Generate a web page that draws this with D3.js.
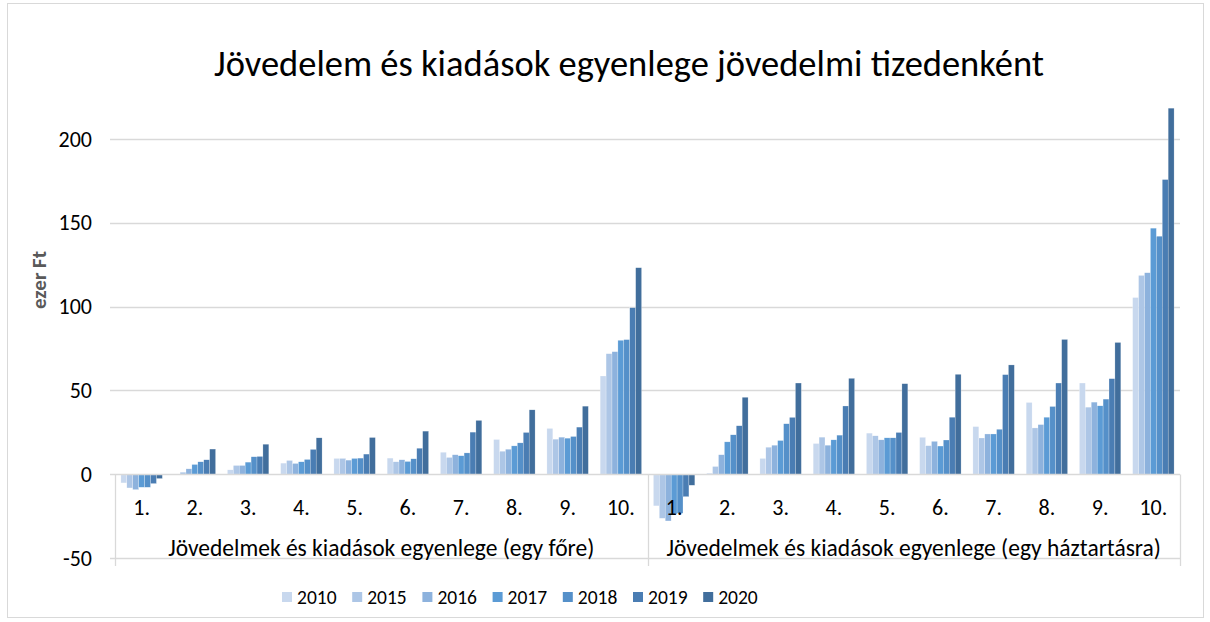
<!DOCTYPE html>
<html>
<head>
<meta charset="utf-8">
<script src="https://cdn.jsdelivr.net/npm/d3@7"></script>
<style>
  html, body { margin: 0; padding: 0; background: #fff; }
  svg { display: block; font-family: Carlito, Calibri, Lato, sans-serif; }
</style>
</head>
<body>
<svg id="chart" width="1210" height="622"></svg>
<script>
const title = "Jövedelem és kiadások egyenlege jövedelmi tizedenként";
const yTitle = "ezer Ft";
const years = ["2010", "2015", "2016", "2017", "2018", "2019", "2020"];
const deciles = ["1.", "2.", "3.", "4.", "5.", "6.", "7.", "8.", "9.", "10."];
const groups = ["Jövedelmek és kiadások egyenlege (egy főre)", "Jövedelmek és kiadások egyenlege (egy háztartásra)"];
const yTicks = [-50, 0, 50, 100, 150, 200];
const colors = ["#c8d8ee", "#adc6e6", "#8db2dd", "#5b9bd5", "#5590c9", "#4a7db3", "#416e9c"];

// values per year: first 10 = per person deciles, last 10 = per household deciles
const v2010 = [-5.2, 0, 2.6, 6.6, 9.4, 9.6, 13.1, 20.7, 27.3, 58.6, -18.9, 0.6, 9.4, 18.3, 24.5, 22, 28.4, 42.8, 54.4, 105.4];
const v2015 = [-8.2, 1.2, 5.2, 8.2, 9.4, 7.4, 10.0, 13.7, 20.9, 71.9, -26.3, 4.6, 16.1, 22.1, 22.9, 17, 21.6, 27.6, 40, 118.6];
const v2016 = [-9.2, 3.2, 5.2, 6.4, 8.4, 8.6, 11.6, 14.9, 22.1, 73.1, -27.9, 11.6, 17.3, 17.3, 20.5, 19.6, 24, 29.6, 43, 120.2];
const v2017 = [-7.8, 5.8, 7.2, 7.4, 9.4, 7.6, 11.0, 16.9, 21.5, 79.9, -23.7, 19.3, 20.1, 20.5, 21.7, 16.8, 24, 34, 40.8, 146.8];
const v2018 = [-7.8, 7.4, 10.4, 8.8, 9.6, 9.2, 12.7, 18.7, 22.5, 80.3, -23.3, 23.5, 30.1, 23.3, 21.7, 20.4, 26.8, 40.4, 44.8, 142];
const v2019 = [-5.6, 8.6, 10.6, 14.8, 12.0, 15.5, 25.1, 24.9, 28.1, 99.3, -13.4, 28.9, 33.9, 40.7, 24.9, 34, 59.4, 54.4, 57, 175.8];
const v2020 = [-2.6, 15.0, 17.9, 21.7, 21.9, 25.7, 32.1, 38.4, 40.6, 123.2, -6.6, 45.9, 54.4, 57.2, 54.0, 59.6, 65.2, 80.4, 78.6, 218.4];
const series = [v2010, v2015, v2016, v2017, v2018, v2019, v2020];

const svg = d3.select("#chart");
const plot = { left: 115, right: 1180, top: 139, bottom: 558 };

// chart border
svg.append("rect").attr("x", 7.5).attr("y", 3.5).attr("width", 1196).attr("height", 614)
  .attr("fill", "#fff").attr("stroke", "#d9d9d9").attr("stroke-width", 1);

const keys = [];
groups.forEach((g, gi) => deciles.forEach((d, di) => keys.push(gi * 10 + di)));

const x = d3.scaleBand().domain(keys).range([plot.left, plot.right]).paddingInner(0.222).paddingOuter(0.111);
const xs = d3.scaleBand().domain(years).range([0, x.bandwidth()]);
const y = d3.scaleLinear().domain([-50, 200]).range([plot.bottom, plot.top]);

// value axis labels
const gy = svg.append("g").attr("transform", `translate(${plot.left - 5},0)`);
gy.call(d3.axisLeft(y).tickValues(yTicks).tickSize(0).tickPadding(18).tickFormat(d => String(d)));
gy.select(".domain").remove();
gy.selectAll("text").attr("font-size", 22).attr("fill", "#000").attr("font-family", "Carlito, Calibri, Lato, sans-serif");

// gridlines
svg.append("g").selectAll("line").data(yTicks.filter(t => t !== 0)).join("line")
  .attr("x1", plot.left - 5).attr("x2", plot.right)
  .attr("y1", d => Math.round(y(d)) + 0.5).attr("y2", d => Math.round(y(d)) + 0.5)
  .attr("stroke", "#d9d9d9").attr("stroke-width", 1.3);

// bars
const bars = svg.append("g");
series.forEach((vals, si) => {
  bars.append("g").selectAll("rect").data(vals.map((v, i) => ({ k: keys[i], v }))).join("rect")
    .attr("x", d => x(d.k) + xs(years[si]))
    .attr("width", xs.bandwidth())
    .attr("y", d => y(Math.max(0, d.v)))
    .attr("height", d => Math.abs(y(d.v) - y(0)))
    .attr("fill", colors[si])
    .attr("stroke", "#ffffff").attr("stroke-width", 0.4).attr("stroke-opacity", 0.6);
});

// category axis
const y0 = Math.round(y(0)) + 0.5;
svg.append("line").attr("x1", plot.left - 5).attr("x2", plot.right).attr("y1", y0).attr("y2", y0)
  .attr("stroke", "#d9d9d9").attr("stroke-width", 1.3);
const seps = [plot.left, (plot.left + plot.right) / 2, plot.right];
svg.append("g").selectAll("line").data(seps).join("line")
  .attr("x1", d => Math.round(d) + 0.5).attr("x2", d => Math.round(d) + 0.5)
  .attr("y1", y0).attr("y2", 566)
  .attr("stroke", "#d9d9d9").attr("stroke-width", 1.3);

svg.append("g").selectAll("text").data(keys).join("text")
  .attr("x", d => x(d) + x.bandwidth() / 2)
  .attr("y", 515)
  .attr("text-anchor", "middle").attr("font-size", 22).attr("fill", "#000")
  .text(d => deciles[d % 10]);

svg.append("g").selectAll("text").data(groups).join("text")
  .attr("x", (d, i) => i === 0 ? (seps[0] + seps[1]) / 2 : (seps[1] + seps[2]) / 2)
  .attr("y", 556)
  .attr("text-anchor", "middle").attr("font-size", 23.5).attr("fill", "#000")
  .text(d => d);

// y title
svg.append("text").attr("transform", "translate(46,280) rotate(-90)")
  .attr("text-anchor", "middle").attr("font-size", 21).attr("font-weight", "bold").attr("fill", "#595959")
  .text(yTitle);

// title
svg.append("text").attr("x", 629).attr("y", 76).attr("text-anchor", "middle")
  .attr("font-size", 36.5).attr("fill", "#000").text(title);

// legend
const lg = svg.append("g");
years.forEach((yr, i) => {
  const lx = 282 + i * 70.2;
  lg.append("rect").attr("x", lx).attr("y", 592).attr("width", 10).attr("height", 10).attr("fill", colors[i]);
  lg.append("text").attr("x", lx + 15).attr("y", 603.5).attr("font-size", 19.5).attr("fill", "#000").text(yr);
});
</script>
</body>
</html>
